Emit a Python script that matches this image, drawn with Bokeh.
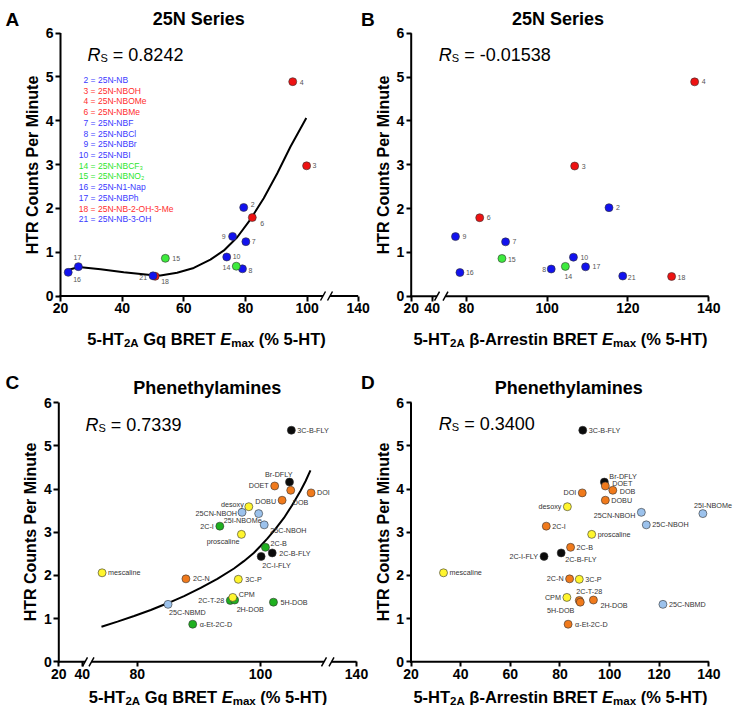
from bokeh.plotting import figure
from bokeh.models import (LinearAxis, FixedTicker, Label, Range1d, ColumnDataSource,
                          CustomJSTickFormatter)
from bokeh.layouts import column, row
from bokeh.embed import file_html
from bokeh.resources import INLINE
from bokeh.core.properties import value

FONT = "Liberation Sans"

# ------------------------------------------------------------------ data: 25N series
n25_id = ["2", "3", "4", "6", "7", "8", "9", "10", "14", "15", "16", "17", "18", "21"]
n25_name = ["25N-NB", "25N-NBOH", "25N-NBOMe", "25N-NBMe", "25N-NBF", "25N-NBCl",
            "25N-NBBr", "25N-NBI", "25N-NBCF\u2083", "25N-NBNO\u2082", "25N-N1-Nap",
            "25N-NBPh", "25N-NB-2-OH-3-Me", "25N-NB-3-OH"]
n25_class = ["blue", "red", "red", "red", "blue", "blue", "blue", "blue", "green", "green",
             "blue", "blue", "red", "blue"]
n25_htr = [2.02, 2.97, 4.89, 1.79, 1.24, 0.62, 1.36, 0.89, 0.68, 0.86, 0.54, 0.67, 0.45, 0.46]
n25_gq = [79.4, 99.8, 95.3, 82.2, 80.1, 79.0, 75.8, 73.9, 77.0, 54.0, 22.5, 25.8, 50.7, 50.0]
n25_barr = [115.3, 106.8, 136.5, 83.3, 89.7, 101.0, 77.3, 106.5, 104.5, 88.8, 78.4, 109.5,
            130.8, 118.7]
fitA_x = [22.7, 25.9, 33.0, 40.5, 49.2, 52.4, 57.8, 63.2, 68.6, 73.0, 77.3, 81.6, 85.9,
          90.3, 94.6, 99.7]
fitA_y = [0.60, 0.66, 0.61, 0.54, 0.48, 0.47, 0.53, 0.64, 0.83, 1.04, 1.34, 1.75, 2.23,
          2.80, 3.41, 4.06]

# ------------------------------------------------------------------ data: phenethylamines
pea_name = ["3C-B-FLY", "Br-DFLY", "DOET", "DOB", "DOI", "DOBU", "desoxy", "25CN-NBOH",
            "25I-NBOMe", "25C-NBOH", "2C-I", "proscaline", "2C-B", "2C-B-FLY", "2C-I-FLY",
            "mescaline", "2C-N", "3C-P", "2C-T-28", "2H-DOB", "CPM", "5H-DOB", "25C-NBMD",
            "\u03b1-Et-2C-D"]
pea_htr = [5.36, 4.16, 4.07, 3.97, 3.91, 3.74, 3.59, 3.46, 3.43, 3.17, 3.14, 2.95, 2.65,
           2.52, 2.44, 2.06, 1.92, 1.91, 1.42, 1.43, 1.49, 1.38, 1.33, 0.87]
pea_gq = [105.0, 104.7, 102.3, 104.9, 108.2, 103.5, 98.1, 97.0, 99.7, 100.6, 93.4, 96.9,
          100.8, 101.9, 100.1, 74.3, 87.9, 96.4, 95.1, 95.8, 95.5, 102.1, 85.0, 89.0]
pea_barr = [89.2, 97.9, 98.3, 101.3, 89.0, 98.3, 83.0, 112.8, 137.6, 114.8, 74.5, 92.8,
            84.3, 80.5, 73.6, 33.1, 83.9, 87.8, 87.8, 93.5, 82.8, 88.2, 121.5, 83.3]
pea_class_gq = ["black", "black", "orange", "orange", "orange", "orange", "yellow",
                "lightblue", "lightblue", "lightblue", "green", "yellow", "green", "black",
                "black", "yellow", "orange", "yellow", "green", "green", "yellow", "green",
                "lightblue", "green"]
pea_class_barr = ["black", "black", "orange", "orange", "orange", "orange", "yellow",
                  "lightblue", "lightblue", "lightblue", "orange", "yellow", "orange", "black",
                  "black", "yellow", "orange", "yellow", "orange", "orange", "yellow", "orange",
                  "lightblue", "orange"]
fitC_x = [74.2, 76.8, 79.5, 82.2, 85.0, 87.6, 90.3, 93.0, 95.7, 97.3, 98.9, 100.0, 101.1,
          102.4, 103.8, 105.1, 106.5, 107.3, 108.1]
fitC_y = [0.81, 0.93, 1.06, 1.20, 1.36, 1.52, 1.71, 1.92, 2.16, 2.33, 2.52, 2.68, 2.85,
          3.07, 3.33, 3.62, 3.96, 4.18, 4.43]

# ------------------------------------------------------------------ text
titles = {"A": "25N Series", "B": "25N Series", "C": "Phenethylamines", "D": "Phenethylamines"}
rs_values = {"A": "0.8242", "B": "-0.01538", "C": "0.7339", "D": "0.3400"}
y_title = "HTR Counts Per Minute"
y_ticks = [0, 1, 2, 3, 4, 5, 6]
xtick_labels = {
    "A": ["20", "40", "60", "80", "100", "140"],
    "B": ["20", "40", "80", "100", "120", "140"],
    "C": ["20", "40", "80", "100", "140"],
    "D": ["20", "40", "60", "80", "100", "120", "140"],
}
assay_gq = "Gq BRET"
assay_barr = "\u03b2-Arrestin BRET"

# ------------------------------------------------------------------ styles / layout
COL_25N = {"blue": "#1212EE", "red": "#EE1212", "green": "#3DEB3D"}
LEG_25N = {"blue": "#3A3AFF", "red": "#FF2E2E", "green": "#2EE62E"}
COL_PEA = {"black": "#0B0B0B", "orange": "#F07A1C", "yellow": "#FFF52E",
           "lightblue": "#9CC2EC", "green": "#1FB01F"}

# page-pixel geometry of each panel (figure box, axis origin, px per unit)
GEO = {
    "A": dict(fig=(0, 0, 375, 352), ox=60.0, oy=295.5, v0=20.0, sx=3.084, sy=43.83,
              fake={"140": 357.7}, xline=[(59.0, 322.5), (329.5, 357.7)],
              breaks=[322.5, 329.5]),
    "B": dict(fig=(375, 0, 734, 352), ox=410.7, oy=295.7, v0=66.34, sx=4.04, sy=43.83,
              fake={"20": 410.7, "40": 431.7}, xline=[(409.7, 436.5), (445.0, 708.3)],
              breaks=[436.5, 445.0]),
    "C": dict(fig=(0, 352, 375, 705), ox=58.3, oy=661.3, v0=67.28, sx=6.165, sy=43.2,
              fake={"20": 58.3, "40": 81.7, "140": 356.0},
              xline=[(57.3, 84.5), (91.0, 323.5), (331.0, 356.0)],
              breaks=[84.5, 91.0, 323.5, 331.0]),
    "D": dict(fig=(375, 352, 734, 705), ox=410.5, oy=661.3, v0=20.0, sx=2.482, sy=43.2,
              fake={}, xline=[(409.5, 708.3)], breaks=[]),
}

PLACE_A = [(7, -3, "left"), (6, 0, "left"), (7, 1, "left"), (8, 6, "left"), (6, 0, "left"),
           (6, 2, "left"), (-7, 0, "right"), (6, 0, "left"), (-6, 1, "right"), (7, 0, "left"),
           (5, 7, "left"), (-1, -9, "center"), (6, 5, "left"), (-6, 2, "right")]
PLACE_B = [(7, 0, "left"), (7, 0, "left"), (7, 0, "left"), (7, 0, "left"), (7, 0, "left"),
           (-5, 0, "right"), (7, 0, "left"), (7, 0, "left"), (3, 10, "center"),
           (6, 1, "left"), (6, 0, "left"), (7, 0, "left"), (6, 1, "left"), (5, 1, "left")]
PLACE_C = [(6, 0, "left"), (3, -8, "right"), (-6, 0, "right"), (2, 12, "left"),
           (6, 0, "left"), (-6, 1, "right"), (-5, -2, "right"), (-5, 1, "right"),
           (3, 7, "right"), (6, 6, "left"), (-6, 0, "right"), (-2, 7, "right"),
           (5, -4, "left"), (7, 1, "left"), (1, 9, "left"), (6, 0, "left"), (7, 0, "left"),
           (7, 0, "left"), (-6, 0, "right"), (2, 9, "left"), (6, -3, "left"), (7, 0, "left"),
           (1, 8, "left"), (7, 0, "left")]
PLACE_D = [(6, 0, "left"), (5, -6, "left"), (7, -2, "left"), (7, 1, "left"),
           (-6, 0, "right"), (6, 0, "left"), (-6, 0, "right"), (-6, 3, "right"),
           (29, -8, "right"), (6, 0, "left"), (6, 0, "left"), (6, 0, "left"), (6, 0, "left"),
           (4, 7, "left"), (-6, 0, "right"), (6, 0, "left"), (-6, 0, "right"),
           (6, 0, "left"), (-3, -9, "left"), (7, 5, "left"), (-6, 0, "right"),
           (-6, 8, "right"), (6, 0, "left"), (7, 0, "left")]

# Arial / Liberation Sans advance widths (per 1000 em)
AW_REG = {" ": 278, "=": 584, ".": 278, "-": 333, "R": 722, "S": 667}
AW_BOLD = {" ": 278, "-": 333, "%": 889, "(": 333, ")": 333, "A": 722, "B": 722, "E": 667,
           "G": 778, "H": 722, "R": 722, "T": 611, "a": 556, "e": 556, "i": 278, "m": 889,
           "n": 611, "q": 611, "r": 389, "s": 556, "t": 333, "x": 556, "\u03b2": 600}


def tw(s, size, bold):
    tab = AW_BOLD if bold else AW_REG
    return sum(tab.get(c, 556) for c in s) * size / 1000.0


def X(g, px):
    return g["v0"] + (px - g["ox"]) / g["sx"]


def Y(g, py):
    return (g["oy"] - py) / g["sy"]


def make_fig(g):
    fx0, fy0, fx1, fy1 = g["fig"]
    p = figure(width=int(fx1 - fx0), height=int(fy1 - fy0),
               x_range=Range1d(X(g, fx0), X(g, fx1)), y_range=Range1d(Y(g, fy1), Y(g, fy0)),
               x_axis_type=None, y_axis_type=None, toolbar_location=None,
               output_backend="svg", min_border=0)
    p.min_border_left = p.min_border_right = p.min_border_top = p.min_border_bottom = 0
    p.outline_line_color = None
    p.background_fill_color = "white"
    p.border_fill_color = "white"
    return p


def style_axis(ax):
    ax.axis_line_color = None
    ax.major_tick_line_color = "black"
    ax.major_tick_line_width = 2
    ax.major_tick_in = 0
    ax.major_tick_out = 5
    ax.minor_tick_line_color = None
    ax.major_label_text_font = FONT
    ax.major_label_text_font_size = "14px"
    ax.major_label_text_font_style = "bold"
    ax.major_label_text_color = "black"
    ax.major_label_standoff = 2


def add_axes(p, g, key):
    yax = LinearAxis(fixed_location=g["v0"], ticker=FixedTicker(ticks=y_ticks),
                     bounds=(0, 6), axis_label=y_title)
    style_axis(yax)
    yax.axis_label_text_font = FONT
    yax.axis_label_text_font_size = "16px"
    yax.axis_label_text_font_style = "bold"
    yax.axis_label_text_color = "black"
    yax.axis_label_standoff = 2
    p.add_layout(yax, "left")

    labs = xtick_labels[key]
    pos = [round(X(g, g["fake"][l]) if l in g["fake"] else float(l), 4) for l in labs]
    fmt = CustomJSTickFormatter(args=dict(pos=pos, labs=labs), code="""
        for (let i = 0; i < pos.length; i++) {
            if (Math.abs(pos[i] - tick) < 1e-6) { return labs[i]; }
        }
        return '';
    """)
    xax = LinearAxis(fixed_location=0, ticker=FixedTicker(ticks=pos), formatter=fmt)
    style_axis(xax)
    p.add_layout(xax, "below")

    # axis lines (with breaks)
    x0 = [g["v0"]]
    y0 = [Y(g, g["oy"] + 1)]
    x1 = [g["v0"]]
    y1 = [6.0]
    for a, b in g["xline"]:
        x0.append(X(g, a)); y0.append(0.0); x1.append(X(g, b)); y1.append(0.0)
    p.segment(x0=x0, y0=y0, x1=x1, y1=y1, line_color="black", line_width=2)
    br = g["breaks"]
    if br:
        p.segment(x0=[X(g, b - 2.5) for b in br], y0=[Y(g, g["oy"] + 4.5)] * len(br),
                  x1=[X(g, b + 2.5) for b in br], y1=[Y(g, g["oy"] - 4.5)] * len(br),
                  line_color="black", line_width=1.5)


def put(p, g, px, py, text, size, style="normal", align="left", baseline="alphabetic",
        color="black"):
    p.add_layout(Label(x=X(g, px), y=Y(g, py), text=text, text_font=FONT,
                       text_font_size=f"{size}px", text_font_style=style, text_align=align,
                       text_baseline=baseline, text_color=color))


def rich(p, g, x0, base, pieces, anchor="left"):
    total = sum(tw(t, sz, "bold" in st) for t, sz, st, dy in pieces)
    x = x0 - total / 2.0 if anchor == "center" else x0
    for t, sz, st, dy in pieces:
        bold = "bold" in st
        lead = len(t) - len(t.lstrip(" "))
        s = t.strip(" ")
        put(p, g, x + tw(" " * lead, sz, bold), base + dy, s, sz, st)
        x += tw(t, sz, bold)


def xlabel(p, g, cx, base, assay):
    rich(p, g, cx, base, [("5-HT", 16.5, "bold", 0), ("2A", 11.5, "bold", 4),
                          (" " + assay + " ", 16.5, "bold", 0), ("E", 16.5, "bold italic", 0),
                          ("max", 11.5, "bold", 4), (" (% 5-HT)", 16.5, "bold", 0)],
         anchor="center")


def rs(p, g, x0, base, val):
    rich(p, g, x0, base, [("R", 18, "italic", 0), ("S", 11, "normal", 3),
                          (" = " + val, 18, "normal", 0)])


def points(p, g, xs, ys, classes, cmap, place, texts, lsize, lcolor):
    src = ColumnDataSource(dict(x=xs, y=ys, color=[cmap[c] for c in classes]))
    p.scatter(x="x", y="y", source=src, size=8, fill_color="color", line_color="#333333",
              line_width=0.6)
    for al in ("left", "right", "center"):
        idx = [i for i, pl in enumerate(place) if pl[2] == al]
        if not idx:
            continue
        s = ColumnDataSource(dict(
            x=[xs[i] + place[i][0] / g["sx"] for i in idx],
            y=[ys[i] - place[i][1] / g["sy"] for i in idx],
            t=[texts[i] for i in idx]))
        p.text(x="x", y="y", text="t", source=s, text_align=al, text_baseline="middle",
               text_font=value(FONT), text_font_size=f"{lsize}px", text_color=lcolor)


# ------------------------------------------------------------------ panel A
gA = GEO["A"]
pA = make_fig(gA)
add_axes(pA, gA, "A")
pA.line(fitA_x, fitA_y, line_color="black", line_width=2)
points(pA, gA, n25_gq, n25_htr, n25_class, COL_25N, PLACE_A, n25_id, 7, "#555555")
for i, (nid, nm, cl) in enumerate(zip(n25_id, n25_name, n25_class)):
    lx = 78.3 if len(nid) == 2 else 78.3 + tw("0", 8.5, False)
    put(pA, gA, lx, 79.3 + i * 10.74, f"{nid} = {nm}", 8.5, baseline="middle",
        color=LEG_25N[cl])
put(pA, gA, 198.3, 18.5, titles["A"], 18, "bold", align="center")
put(pA, gA, 5, 19, "A", 19, "bold")
put(pA, gA, 360.5, 19, "B", 19, "bold")
rs(pA, gA, 87, 54.3, rs_values["A"])
xlabel(pA, gA, 206, 338.5, assay_gq)

# ------------------------------------------------------------------ panel B
gB = GEO["B"]
pB = make_fig(gB)
add_axes(pB, gB, "B")
points(pB, gB, n25_barr, n25_htr, n25_class, COL_25N, PLACE_B, n25_id, 7, "#555555")
put(pB, gB, 557.5, 18.5, titles["B"], 18, "bold", align="center")
rs(pB, gB, 438.3, 54.3, rs_values["B"])
xlabel(pB, gB, 560, 338.5, assay_barr)

# ------------------------------------------------------------------ panel C
gC = GEO["C"]
pC = make_fig(gC)
add_axes(pC, gC, "C")
pC.line(fitC_x, fitC_y, line_color="black", line_width=2)
points(pC, gC, pea_gq, pea_htr, pea_class_gq, COL_PEA, PLACE_C, pea_name, 7.2, "#333333")
put(pC, gC, 206.7, 387.3, titles["C"], 18, "bold", align="center")
put(pC, gC, 5, 382, "C", 19, "bold")
put(pC, gC, 360.5, 382, "D", 19, "bold")
rs(pC, gC, 85, 424, rs_values["C"])
xlabel(pC, gC, 207.5, 696, assay_gq)

# ------------------------------------------------------------------ panel D
gD = GEO["D"]
pD = make_fig(gD)
add_axes(pD, gD, "D")
points(pD, gD, pea_barr, pea_htr, pea_class_barr, COL_PEA, PLACE_D, pea_name, 7.2, "#333333")
put(pD, gD, 568.3, 387.3, titles["D"], 18, "bold", align="center")
rs(pD, gD, 438.3, 423.3, rs_values["D"])
xlabel(pD, gD, 560, 696, assay_barr)

layout = column(row(pA, pB), row(pC, pD))
with open("out.html", "w", encoding="utf-8") as f:
    f.write(file_html(layout, INLINE))
